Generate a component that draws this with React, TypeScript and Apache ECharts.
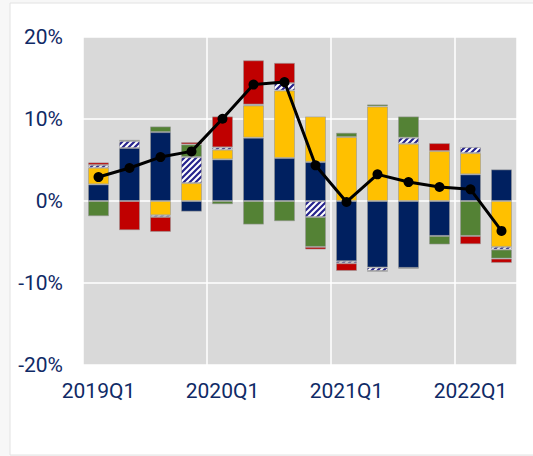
import React, { useEffect, useRef } from "react";
import * as echarts from "echarts";

const categories = [
  "2019Q1", "2019Q2", "2019Q3", "2019Q4",
  "2020Q1", "2020Q2", "2020Q3", "2020Q4",
  "2021Q1", "2021Q2", "2021Q3", "2021Q4",
  "2022Q1", "2022Q2",
];
const navy = [2.03, 6.46, 8.4, -1.3, 5.08, 7.72, 5.24, 4.75, -7.34, -8.11, -8.16, -4.26, 3.25, 3.86];
const yellow = [2.03, 0, -1.74, 2.19, 1.18, 3.94, 8.24, 5.57, 7.8, 11.53, 6.99, 6.09, 2.6, -5.6];
const hatched = [0.33, 0.85, -0.2, 3.17, 0.28, 0.1, 0.89, -1.95, -0.25, -0.42, 0.73, 0, 0.73, -0.32];
const green = [-1.86, 0.15, 0.7, 1.54, -0.4, -2.88, -2.47, -3.65, 0.53, 0.25, 2.6, -1.05, -4.26, -1.1];
const red = [0.32, -3.57, -1.83, 0.28, 3.78, 5.4, 2.48, -0.32, -0.94, -0.05, -0.1, 0.97, -1.02, -0.53];
const total = [2.92, 4.02, 5.36, 6.05, 10.03, 14.2, 14.5, 4.35, -0.12, 3.25, 2.31, 1.71, 1.42, -3.65];
const yTicks = [-20, -10, 0, 10, 20];

const TEXT = "#0F2A66";
const FONT = "Roboto";

function makeStripes(): HTMLCanvasElement {
  const s = 6;
  const c = document.createElement("canvas");
  c.width = s;
  c.height = s;
  const ctx = c.getContext("2d")!;
  ctx.fillStyle = "#ffffff";
  ctx.fillRect(0, 0, s, s);
  ctx.strokeStyle = "#26238c";
  ctx.lineWidth = 2.2;
  ctx.beginPath();
  // "/" stripes: bottom-left to top-right
  ctx.moveTo(0, s);
  ctx.lineTo(s, 0);
  ctx.moveTo(-s / 2, s / 2);
  ctx.lineTo(s / 2, -s / 2);
  ctx.moveTo(s / 2, s * 1.5);
  ctx.lineTo(s * 1.5, s / 2);
  ctx.stroke();
  return c;
}

export default function App() {
  const ref = useRef<HTMLDivElement>(null);
  useEffect(() => {
    if (!ref.current) return;
    const chart = echarts.init(ref.current, null, { renderer: "svg" });
    const border = "rgba(150,150,150,0.55)";
    const bar = (name: string, data: number[], itemStyle: any) => ({
      name,
      type: "bar",
      stack: "s",
      barWidth: 21,
      data: data.map((v) => (v === 0 ? "-" : v)),
      itemStyle: { borderColor: border, borderWidth: 1, ...itemStyle },
    });
    chart.setOption({
      animation: false,
      graphic: [
        {
          type: "rect",
          shape: { x: 10, y: 3, width: 540, height: 452 },
          style: { fill: "#ffffff", stroke: "#e2e2e2", lineWidth: 1 },
          z: -10,
          silent: true,
        },
      ],
      grid: {
        left: 83,
        right: 16,
        top: 37,
        bottom: 91,
        show: true,
        backgroundColor: "#D9D9D9",
        borderWidth: 0,
      },
      xAxis: {
        type: "category",
        data: categories,
        axisLine: { show: false },
        axisTick: { show: false },
        axisLabel: {
          interval: 3,
          color: TEXT,
          fontFamily: FONT,
          fontSize: 21,
          margin: 15,
        },
        splitLine: { show: true, interval: 3, lineStyle: { color: "#ffffff", width: 1.5 } },
      },
      yAxis: {
        type: "value",
        min: yTicks[0],
        max: yTicks[yTicks.length - 1],
        interval: 10,
        axisLine: { show: false },
        axisTick: { show: false },
        axisLabel: {
          color: TEXT,
          fontFamily: FONT,
          fontSize: 21,
          margin: 20,
          formatter: (v: number) => `${v}%`,
        },
        splitLine: { show: true, lineStyle: { color: "#ffffff", width: 1.5 } },
      },
      series: [
        bar("navy", navy, { color: "#002060" }),
        bar("yellow", yellow, { color: "#FFC000" }),
        bar("hatched", hatched, {
          color: { image: makeStripes(), repeat: "repeat" },
        }),
        bar("green", green, { color: "#548235" }),
        bar("red", red, { color: "#C00000" }),
        {
          name: "total",
          type: "line",
          data: total,
          z: 10,
          symbol: "circle",
          symbolSize: 10,
          lineStyle: { color: "#000000", width: 3 },
          itemStyle: { color: "#000000" },
        },
      ],
    });
    return () => chart.dispose();
  }, []);
  return (
    <div
      ref={ref}
      style={{ position: "fixed", left: 0, top: 0, width: 533, height: 456, background: "#f7f7f7" }}
    />
  );
}
